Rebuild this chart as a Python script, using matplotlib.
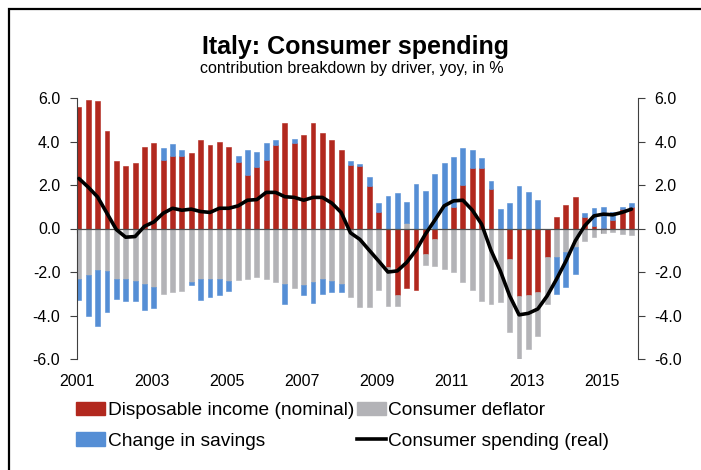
import numpy as np
import matplotlib
matplotlib.use("Agg")
import matplotlib.pyplot as plt
from matplotlib.patches import Patch, Rectangle
from matplotlib.lines import Line2D

plt.rcParams['font.family'] = ['Liberation Sans', 'DejaVu Sans']

# --------------------- Data (quarterly, 2001Q1 - 2015Q4) ----------------------
years = [2001, 2003, 2005, 2007, 2009, 2011, 2013, 2015]

income = [5.6, 5.9, 5.87, 4.5, 3.1, 2.87, 3.0, 3.76, 3.93, 3.14,
          3.33, 3.33, 3.48, 4.08, 3.83, 3.96, 3.73, 3.04, 2.47, 2.84,
          3.14, 3.85, 4.85, 3.91, 4.31, 4.85, 4.37, 4.06, 3.6, 2.93,
          2.88, 1.96, 0.78, -1.76, -3.05, -2.75, -2.84, -1.18, -0.49, 0.0,
          1.0, 2.0, 2.78, 2.8, 1.81, 0.0, -1.41, -3.1, -3.05, -2.94,
          -1.33, 0.54, 1.07, 1.43, 0.55, 0.12, 0.03, 0.38, 0.89, 0.97]

deflator = [-2.3, -2.13, -1.9, -1.96, -2.3, -2.3, -2.4, -2.56, -2.7, -3.0,
            -2.94, -2.87, -2.48, -2.33, -2.33, -2.3, -2.4, -2.38, -2.3, -2.25,
            -2.3, -2.44, -2.53, -2.75, -2.6, -2.44, -2.3, -2.4, -2.56, -3.14,
            -3.63, -3.6, -2.84, -1.79, -0.5, 0.23, 0.0, -0.49, -1.23, -1.87,
            -2.02, -2.48, -2.84, -3.33, -3.48, -3.4, -3.37, -2.91, -2.5, -2.0,
            -2.15, -1.29, -1.1, -0.84, -0.57, -0.37, -0.21, -0.14, -0.23, -0.29]

savings = [-1.0, -1.9, -2.6, -1.87, -0.92, -1.03, -0.95, -1.2, -0.95, 0.58,
           0.55, 0.3, -0.12, -0.97, -0.81, -0.75, -0.46, 0.3, 1.13, 0.69,
           0.77, 0.21, -0.92, 0.2, -0.45, -1.0, -0.69, -0.54, -0.38, 0.18,
           0.1, 0.41, 0.37, 1.5, 1.61, 0.97, 2.04, 1.73, 2.5, 2.99,
           2.27, 1.69, 0.84, 0.46, 0.38, 0.89, 1.15, 1.96, 1.66, 1.3,
           0.0, -1.7, -1.58, -1.23, 0.14, 0.81, 0.94, 0.4, 0.08, 0.18]

spending = [2.3, 1.9, 1.45, 0.7, -0.05, -0.4, -0.37, 0.1, 0.3, 0.7,
            0.93, 0.84, 0.89, 0.78, 0.74, 0.93, 0.93, 1.04, 1.3, 1.33,
            1.66, 1.66, 1.46, 1.43, 1.3, 1.43, 1.43, 1.17, 0.74, -0.2,
            -0.5, -1.0, -1.49, -2.0, -1.95, -1.56, -1.0, -0.26, 0.38, 1.04,
            1.27, 1.3, 0.85, 0.2, -1.0, -1.95, -3.1, -3.97, -3.9, -3.7,
            -3.1, -2.33, -1.5, -0.57, 0.12, 0.58, 0.66, 0.63, 0.74, 0.89]

RED = '#B2281E'
GREY = '#B3B3B7'
BLUE = '#558ED5'

# --------------------- Plotting ------------------------
fig = plt.figure(figsize=(7.01, 4.70), dpi=100)
ax = fig.add_axes([77 / 701, 111 / 470, 561 / 701, 261 / 470])

x = np.arange(len(income))
pos_bottom = np.zeros(len(x))
neg_bottom = np.zeros(len(x))
for vals, col in [(income, RED), (deflator, GREY), (savings, BLUE)]:
    v = np.array(vals)
    bottom = np.where(v >= 0, pos_bottom, neg_bottom)
    ax.bar(x, v, bottom=bottom, width=0.52, color=col, edgecolor=col, linewidth=0.4, zorder=2)
    pos_bottom = pos_bottom + np.clip(v, 0, None)
    neg_bottom = neg_bottom + np.clip(v, None, 0)

ax.plot(x, spending, color='black', lw=2.6, solid_joinstyle='round', solid_capstyle='round', zorder=4)

ax.set_xlim(-0.2, 59.7)
ax.set_ylim(-6, 6)
ax.set_yticks(np.arange(-6, 6.1, 2))
ax.yaxis.set_major_formatter(plt.FormatStrFormatter('%.1f'))

# year ticks sit on the zero line, labels at the bottom
ax.set_xticks(np.arange(0, 60, 8) - 0.2)
ax.set_xticklabels([str(y) for y in years])
ax.spines['bottom'].set_position(('data', 0))
ax.spines['bottom'].set_color('#505050')
ax.spines['bottom'].set_linewidth(0.9)
ax.spines['bottom'].set_zorder(3)
ax.spines['top'].set_visible(False)
ax.spines['right'].set_visible(False)
ax.spines['left'].set_color('#404040')
ax.tick_params(axis='x', direction='out', length=3, color='#404040', pad=102, labelsize=11.5)
ax.tick_params(axis='y', direction='out', length=5, color='#404040', pad=7, labelsize=11.5)

ax2 = ax.twinx()
ax2.set_ylim(ax.get_ylim())
ax2.set_yticks(np.arange(-6, 6.1, 2))
ax2.yaxis.set_major_formatter(plt.FormatStrFormatter('%.1f'))
for s in ['top', 'left', 'bottom']:
    ax2.spines[s].set_visible(False)
ax2.spines['right'].set_color('#404040')
ax2.tick_params(axis='y', direction='out', length=5, color='#404040', pad=7, labelsize=11.5)

fig.text(355 / 701, 1 - 47 / 470, 'Italy: Consumer spending', ha='center', va='center',
         fontsize=18, fontweight='bold')
fig.text(352 / 701, 1 - 69 / 470, 'contribution breakdown by driver, yoy, in %', ha='center',
         va='center', fontsize=11.5)

handles = [Patch(color=RED, label='Disposable income (nominal)'),
           Patch(color=BLUE, label='Change in savings'),
           Patch(color=GREY, label='Consumer deflator'),
           Line2D([], [], color='black', lw=2.6, label='Consumer spending (real)')]
fig.legend(handles=handles, ncol=2, loc='upper left', bbox_to_anchor=(76 / 701, 1 - 402 / 470),
           frameon=False, fontsize=13.8, borderpad=0, borderaxespad=0, handlelength=1.5,
           handletextpad=0.15, columnspacing=0.15, labelspacing=0.68)

fig.add_artist(Rectangle((9 / 701, -0.1), 1.2, 1.1 - 9 / 470, transform=fig.transFigure,
                         fill=False, lw=1.6, ec='black'))

fig.savefig('out.png', dpi=100)
